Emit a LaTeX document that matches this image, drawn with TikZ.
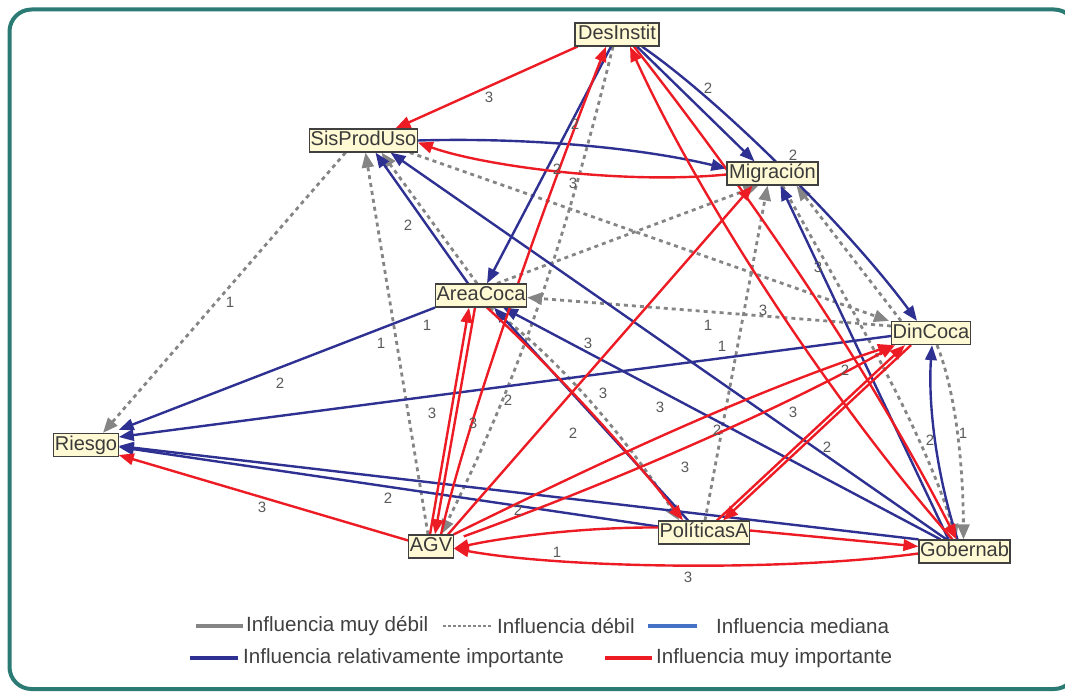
\documentclass[tikz,border=0pt]{standalone}
\usepackage{fontspec}
\setmainfont{Liberation Sans}
\usetikzlibrary{arrows.meta}
\definecolor{cred}{HTML}{ED1C24}
\definecolor{cblue}{HTML}{2E3192}
\definecolor{cgray}{HTML}{858585}
\definecolor{clblue}{HTML}{4472C4}
\definecolor{cteal}{HTML}{2B7A73}
\definecolor{cream}{HTML}{FFF9D4}
\definecolor{ctxt}{HTML}{3A3A3A}
\definecolor{clbl}{HTML}{5A5A5A}
\pgfdeclarelayer{edges}
\pgfsetlayers{edges,main}
\begin{document}
\begin{tikzpicture}[x=1pt,y=-1pt,
  var/.style={draw=black!75, line width=1.2pt, fill=cream, text=ctxt,
    font=\fontsize{20}{22}\selectfont, inner xsep=1pt, inner ysep=0pt,
    minimum height=23pt, text height=15pt, text depth=4.5pt},
  redE/.style={cred, line width=2.4pt, -{Triangle[length=15pt,width=11.5pt]}},
  blueE/.style={cblue, line width=2.4pt, -{Triangle[length=15pt,width=11.5pt]}},
  grayE/.style={cgray, line width=2.8pt, dash pattern=on 4pt off 4pt, -{Triangle[length=15pt,width=12pt]}},
  lbl/.style={text=clbl, font=\fontsize{15}{16}\selectfont, inner sep=0pt},
  leg/.style={text=black!75, font=\fontsize{20.6}{22}\selectfont, inner sep=0pt, anchor=west},
  legline/.style={line width=3.5pt}]
\useasboundingbox (0,0) rectangle (1065,695);
\clip (0,0) rectangle (1065,695);
\begin{pgfonlayer}{edges}
\draw[cteal, line width=4pt, rounded corners=22pt] (9.5,9.5) rectangle (1076,689);
\end{pgfonlayer}
% nodes
\node[var, minimum width=84pt] (DesInstit) at (617,34.5) {DesInstit};
\node[var, minimum width=107pt] (SisProdUso) at (363.5,140.5) {SisProdUso};
\node[var, minimum width=91pt] (Mig) at (772.5,173.5) {Migración};
\node[var, minimum width=90pt] (AreaCoca) at (481,295.5) {AreaCoca};
\node[var, minimum width=78pt] (DinCoca) at (931,333) {DinCoca};
\node[var, minimum width=64pt] (Riesgo) at (86,445) {Riesgo};
\node[var, minimum width=44pt] (AGV) at (431,546.5) {AGV};
\node[var, minimum width=90pt] (Pol) at (704,532.5) {PolíticasA};
\node[var, minimum width=89pt] (Gob) at (964.5,551.5) {Gobernab};
\begin{pgfonlayer}{edges}
% gray dashed
\draw[grayE] ([xshift=-18pt]SisProdUso.south) -- ([xshift=17pt]Riesgo.north);
\draw[grayE] ([xshift=-8pt]SisProdUso.south east) -- ([xshift=-2pt]DinCoca.north west);
\draw[grayE] ([xshift=-4pt]AreaCoca.north) -- ([xshift=18pt]SisProdUso.south);
\draw[grayE] ([xshift=-3pt]AGV.north) -- ([xshift=2pt]SisProdUso.south);
\draw[grayE] ([xshift=-4pt]DesInstit.south) .. controls (568,229) and (525,365) .. ([xshift=10pt]AGV.north);
\draw[grayE] ([xshift=9pt]AreaCoca.south) .. controls (565,362) and (636,452) .. ([xshift=-25pt]Pol.north);
\draw[grayE] ([yshift=7pt]DinCoca.west) -- ([yshift=-2pt]AreaCoca.east);
\draw[grayE] ([xshift=16pt]AreaCoca.north) -- ([xshift=-14pt]Mig.south);
\draw[grayE] ([xshift=1pt]Pol.north) -- ([xshift=-5pt]Mig.south);
\draw[grayE] ([xshift=-30pt]DinCoca.north) -- ([xshift=24pt]Mig.south);
\draw[grayE] ([xshift=10pt]Mig.south) .. controls (840,290) and (920,420) .. ([xshift=-8pt]Gob.north);
\draw[grayE] ([xshift=6pt]DinCoca.south) .. controls (955,390) and (963,460) .. ([xshift=-1pt]Gob.north);
% blue
\draw[blueE] ([xshift=-6pt]DesInstit.south) -- ([xshift=6pt]AreaCoca.north);
\draw[blueE] ([xshift=20pt]DesInstit.south) -- ([xshift=-18pt]Mig.north);
\draw[blueE] ([xshift=25pt]DesInstit.south) .. controls (720,100) and (850,230) .. ([xshift=-14pt]DinCoca.north);
\draw[blueE] (SisProdUso.east) .. controls (540,137) and (650,150) .. ([yshift=5pt]Mig.west);
\draw[blueE] ([xshift=-13pt]AreaCoca.north) -- ([xshift=12pt]SisProdUso.south);
\draw[blueE] ([xshift=-18pt]Gob.north) -- ([xshift=27pt]SisProdUso.south);
\draw[blueE] (AreaCoca.south west) -- ([yshift=3pt]Riesgo.north east);
\draw[blueE] ([yshift=-3pt]DinCoca.west) -- ([yshift=8pt]Riesgo.east);
\draw[blueE] ([yshift=6pt]Pol.west) -- ([yshift=-2pt]Riesgo.east);
\draw[blueE] (Gob.north west) -- ([yshift=-1pt]Riesgo.east);
\draw[blueE] ([xshift=-16pt]Pol.north) -- ([xshift=13pt]AreaCoca.south);
\draw[blueE] ([xshift=-24pt]Gob.north) -- ([xshift=22pt]AreaCoca.south);
\draw[blueE] ([xshift=-16pt]Gob.north) -- ([xshift=8pt]Mig.south);
\draw[blueE] ([xshift=-7pt]Gob.north) .. controls (935,470) and (928,400) .. ([xshift=1pt]DinCoca.south);
% red
\draw[redE] ([xshift=3pt]DesInstit.south west) -- ([xshift=32pt]SisProdUso.north);
\draw[redE] ([xshift=10pt]AGV.north) .. controls (470,408) and (556,174) .. ([xshift=-11pt]DesInstit.south);
\draw[redE] ([xshift=17pt]DesInstit.south) .. controls (700,130) and (850,330) .. ([xshift=-8pt]Gob.north);
\draw[redE] ([xshift=-12pt]Gob.north) .. controls (830,400) and (700,200) .. ([xshift=13pt]DesInstit.south);
\draw[redE] ([yshift=-1pt]Mig.west) .. controls (620,185) and (480,165) .. ([yshift=-2pt]SisProdUso.east);
\draw[redE] ([yshift=6pt]AGV.west) -- ([yshift=-10pt]Riesgo.east);
\draw[redE] ([xshift=-1pt]AGV.north) -- ([xshift=-12pt]AreaCoca.south);
\draw[redE] ([xshift=-6pt]AreaCoca.south) -- ([xshift=4pt]AGV.north);
\draw[redE] ([xshift=6pt]AreaCoca.south) .. controls (553,368) and (632,455) .. ([xshift=-21pt]Pol.north);
\draw[redE] ([xshift=17pt]AGV.north) -- ([xshift=-20pt]Mig.south);
\draw[redE] (AGV.north east) .. controls (597,464) and (743,395) .. ([xshift=2pt]DinCoca.south west);
\draw[redE] ([xshift=10pt,yshift=-2pt]AGV.north east) .. controls (595,489) and (770,415) .. ([xshift=4pt]DinCoca.south west);
\draw[redE] ([xshift=13pt]Pol.north) -- ([xshift=-26pt]DinCoca.south);
\draw[redE] ([xshift=-20pt]DinCoca.south) -- ([xshift=19pt]Pol.north);
\draw[redE] ([yshift=2pt]Pol.east) -- ([yshift=5pt]Gob.west);
\draw[redE] ([yshift=5pt]Pol.west) .. controls (580,527) and (500,538) .. ([yshift=-2pt]AGV.east);
\draw[redE] ([yshift=-2pt]Gob.west) .. controls (780,572) and (560,568) .. ([yshift=-2pt]AGV.east);
\end{pgfonlayer}
% labels
\node[lbl] (l1) at (489,97) {3};
\node[lbl] (l2) at (575,124) {2};
\node[lbl] (l3) at (557,169) {2};
\node[lbl] (l4) at (573,183) {3};
\node[lbl] (l5) at (708,88) {2};
\node[lbl] (l6) at (793,155) {2};
\node[lbl] (l7) at (408,225) {2};
\node[lbl] (l8) at (230,302) {1};
\node[lbl] (l9) at (427,325) {1};
\node[lbl] (l10) at (381,343) {1};
\node[lbl] (l11) at (280,383) {2};
\node[lbl] (l12) at (818,267) {3};
\node[lbl] (l13) at (763,310) {3};
\node[lbl] (l14) at (708,325) {1};
\node[lbl] (l15) at (722,346) {1};
\node[lbl] (l16) at (588,343) {3};
\node[lbl] (l17) at (603,393) {3};
\node[lbl] (l18) at (660,407) {3};
\node[lbl] (l19) at (432,413) {3};
\node[lbl] (l20) at (473,423) {3};
\node[lbl] (l21) at (508,400) {2};
\node[lbl] (l22) at (573,433) {2};
\node[lbl] (l23) at (717,430) {2};
\node[lbl] (l24) at (845,370) {2};
\node[lbl] (l25) at (793,412) {3};
\node[lbl] (l26) at (827,447) {2};
\node[lbl] (l27) at (930,440) {2};
\node[lbl] (l28) at (963,433) {1};
\node[lbl] (l29) at (685,467) {3};
\node[lbl] (l30) at (388,498) {2};
\node[lbl] (l31) at (518,510) {2};
\node[lbl] (l32) at (262,507) {3};
\node[lbl] (l33) at (557,552) {1};
\node[lbl] (l34) at (688,577) {3};
% legend
\draw[cgray, legline] (196,626) -- (243,626);
\node[leg] (L1) at (246,626) {Influencia muy débil};
\draw[cgray, line width=2.8pt, dash pattern=on 2.5pt off 2.5pt] (443,626) -- (492,626);
\node[leg] (L2) at (497,626) {Influencia débil};
\draw[clblue, legline] (648,626) -- (697,626);
\node[leg] (L3) at (716,626) {Influencia mediana};
\draw[cblue, legline] (190,658) -- (238,658);
\node[leg] (L4) at (243,658) {Influencia relativamente importante};
\draw[cred, legline] (605,658) -- (652,658);
\node[leg] (L5) at (656,658) {Influencia muy importante};
\end{tikzpicture}
\end{document}
